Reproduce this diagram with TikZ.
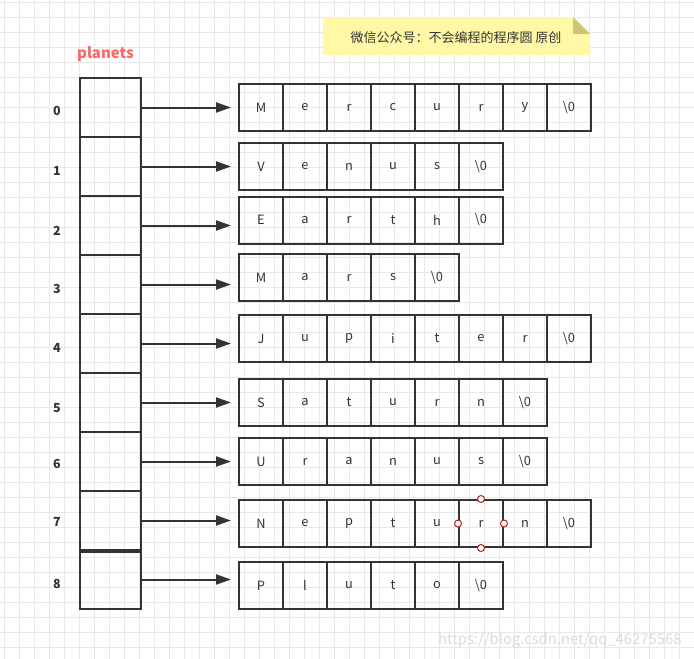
\documentclass[tikz,border=0pt]{standalone}
\usepackage{fontspec}
\setmainfont{Noto Sans CJK SC}
\usetikzlibrary{arrows.meta}
\definecolor{ink}{HTML}{333333}
\definecolor{gridc}{HTML}{E8E8E8}
\definecolor{notefill}{HTML}{FFF9A6}
\definecolor{notefold}{HTML}{CDC67A}
\definecolor{titlec}{HTML}{FF6666}
\definecolor{handlec}{HTML}{B22222}
\newcommand{\nulch}{\textbackslash 0}
\tikzset{
  arrcell/.style={draw=ink, line width=2pt, minimum width=61pt, minimum height=59pt, inner sep=0pt},
  chcell/.style={draw=ink, line width=2pt, minimum width=44pt, minimum height=47pt, inner sep=0pt, font=\fontsize{12.8}{13}\selectfont, text=ink},
  idx/.style={font=\fontsize{12.5}{13}\selectfont\bfseries, text=ink},
  ptr/.style={draw=ink, line width=2pt, -{Triangle[length=15pt,width=10pt]}},
  handle/.style={circle, draw=handlec, fill=white, line width=1pt, minimum size=7pt, inner sep=0pt},
}
\begin{document}
\begin{tikzpicture}[x=1pt,y=-1pt]
\useasboundingbox (0,0) rectangle (694,659);
\fill[white] (0,0) rectangle (694,659);
% grid
\foreach \gx in {4.3,19.3,...,694} \draw[gridc, line width=0.8pt] (\gx,0) -- (\gx,659);
\foreach \gy in {2,17,...,659} \draw[gridc, line width=0.8pt] (0,\gy) -- (694,\gy);
% note
\fill[notefill] (323,17) -- (573,17) -- (590,34) -- (590,55) -- (323,55) -- cycle;
\fill[notefold] (573,17) -- (590,34) -- (573,34) -- cycle;
\node[text=ink, font=\fontsize{13}{13}\selectfont] (note) at (456,38) {微信公众号：不会编程的程序圆 原创};
% title
\node[text=titlec, font=\fontsize{15}{15}\selectfont\bfseries] (title) at (105.5,54) {planets};
% array cells
\foreach \i in {0,...,8} {
  \node[arrcell] (c\i) at (110.5,107.5+59*\i) {};
}
\draw[ink, line width=3.5pt] (c7.south west) -- (c7.south east);
% index labels
\foreach \i/\ly in {0/111,1/171,2/231,3/289,4/348,5/408,6/464,7/522,8/584} {
  \node[idx] (l\i) at (57,\ly) {\i};
}
% strings
\foreach \r/\sy/\word in {
  0/107.5/{M,e,r,c,u,r,y,\nulch},
  1/166.5/{V,e,n,u,s,\nulch},
  2/220/{E,a,r,t,h,\nulch},
  3/277.5/{M,a,r,s,\nulch},
  4/338.5/{J,u,p,i,t,e,r,\nulch},
  5/402.5/{S,a,t,u,r,n,\nulch},
  6/461.5/{U,r,a,n,u,s,\nulch},
  7/523.5/{N,e,p,t,u,r,n,\nulch},
  8/585.5/{P,l,u,t,o,\nulch}} {
  \foreach \ch [count=\k] in \word {
    \node[chcell] (s\r-\k) at (217+44*\k,\sy) {\ch};
  }
}
% pointers
\foreach \i in {0,...,8} {
  \draw[ptr, shorten >=7pt] (c\i.east) -- (c\i.east -| s\i-1.west);
}
% selection handles on Neptune 'r'
\node[handle] (h1) at (s7-6.north) {};
\node[handle] (h2) at (s7-6.south) {};
\node[handle] (h3) at (s7-6.west) {};
\node[handle] (h4) at (s7-6.east) {};
% watermark
\node[text=black!14, font=\fontsize{14.8}{15}\selectfont, anchor=east] (wm) at (685,640) {https://blog.csdn.net/qq\_46275568};
\end{tikzpicture}
\end{document}
